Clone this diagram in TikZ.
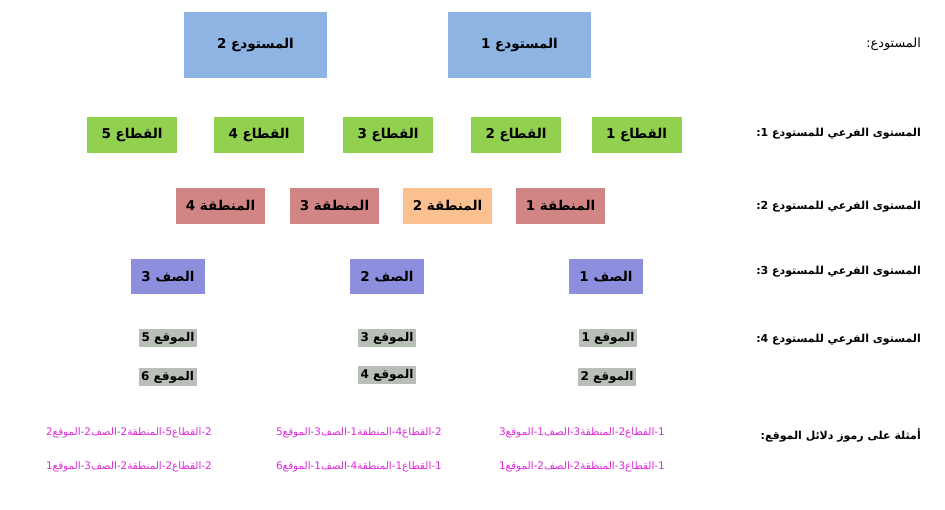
\documentclass[tikz,border=0pt]{standalone}
\usepackage{fontspec}
\TeXXeTstate=1
\newfontfamily\arfont[Script=Arabic]{DejaVu Sans}
\newcommand{\RTL}[1]{\beginR #1\endR}
\newcommand{\LOC}[1]{\raisebox{-1pt}{\beginR #1\endR}}
\definecolor{blueW}{RGB}{141,180,226}
\definecolor{greenS}{RGB}{146,208,80}
\definecolor{redR}{RGB}{209,133,132}
\definecolor{orangeR}{RGB}{250,192,144}
\definecolor{purpleP}{RGB}{142,142,222}
\definecolor{grayL}{RGB}{184,191,182}
\definecolor{pinkT}{RGB}{222,40,222}
\tikzset{
  box/.style={rectangle, inner sep=0pt, font=\arfont\bfseries\fontsize{13.5}{15}\selectfont},
  whbox/.style={box, fill=blueW, minimum width=143pt, minimum height=66pt},
  secbox/.style={box, fill=greenS, minimum width=90pt, minimum height=36pt},
  regbox/.style={box, fill=redR, minimum width=89pt, minimum height=36pt},
  rowbox/.style={box, fill=purpleP, minimum width=74pt, minimum height=35pt},
  locbox/.style={box, fill=grayL, minimum width=58pt, minimum height=18pt, font=\arfont\bfseries\fontsize{12}{12}\selectfont},
  lvl/.style={anchor=east, inner sep=0pt, font=\arfont\bfseries\fontsize{11}{13}\selectfont},
  ex/.style={anchor=east, inner sep=0pt, text=pinkT, font=\arfont\fontsize{10.4}{12}\selectfont}
}
\begin{document}
\begin{tikzpicture}[x=1pt,y=-1pt]
\useasboundingbox (0,0) rectangle (945,510);
% warehouses
\node[whbox] (w2) at (255.5,45) {\RTL{المستودع 2}};
\node[whbox] (w1) at (519.5,45) {\RTL{المستودع 1}};
% sectors
\node[secbox] (s5) at (132,135) {\RTL{القطاع 5}};
\node[secbox] (s4) at (259,135) {\RTL{القطاع 4}};
\node[secbox] (s3) at (388,135) {\RTL{القطاع 3}};
\node[secbox] (s2) at (516,135) {\RTL{القطاع 2}};
\node[secbox] (s1) at (636.5,135) {\RTL{القطاع 1}};
% regions
\node[regbox] (r4) at (220.5,206) {\RTL{المنطقة 4}};
\node[regbox] (r3) at (334.5,206) {\RTL{المنطقة 3}};
\node[regbox, fill=orangeR] (r2) at (447.5,206) {\RTL{المنطقة 2}};
\node[regbox] (r1) at (560.5,206) {\RTL{المنطقة 1}};
% rows
\node[rowbox] (p3) at (168,276.5) {\RTL{الصف 3}};
\node[rowbox] (p2) at (387,276.5) {\RTL{الصف 2}};
\node[rowbox] (p1) at (606,276.5) {\RTL{الصف 1}};
% locations
\node[locbox] (l5) at (168,338) {\LOC{الموقع 5}};
\node[locbox] (l3) at (387,338) {\LOC{الموقع 3}};
\node[locbox] (l1) at (608,338) {\LOC{الموقع 1}};
\node[locbox] (l6) at (167.5,377) {\LOC{الموقع 6}};
\node[locbox] (l4) at (387,375) {\LOC{الموقع 4}};
\node[locbox] (l2) at (607,377) {\LOC{الموقع 2}};
% level labels
\node[lvl, font=\arfont\fontsize{12.8}{14}\selectfont] (t0) at (921,44) {\RTL{المستودع:}};
\node[lvl] (t1) at (921,134) {\RTL{المستوى الفرعي للمستودع 1:}};
\node[lvl] (t2) at (921,207) {\RTL{المستوى الفرعي للمستودع 2:}};
\node[lvl] (t3) at (921,272) {\RTL{المستوى الفرعي للمستودع 3:}};
\node[lvl] (t4) at (921,340) {\RTL{المستوى الفرعي للمستودع 4:}};
\node[lvl] (t5) at (921,435) {\RTL{أمثلة على رموز دلائل الموقع:}};
% examples
\node[ex] (e1) at (665,433) {\RTL{1-القطاع2-المنطقة3-الصف1-الموقع3}};
\node[ex] (e2) at (442,433) {\RTL{2-القطاع4-المنطقة1-الصف3-الموقع5}};
\node[ex] (e3) at (212,433) {\RTL{2-القطاع5-المنطقة2-الصف2-الموقع2}};
\node[ex] (e4) at (665,467) {\RTL{1-القطاع3-المنطقة2-الصف2-الموقع1}};
\node[ex] (e5) at (442,467) {\RTL{1-القطاع1-المنطقة4-الصف1-الموقع6}};
\node[ex] (e6) at (212,467) {\RTL{2-القطاع2-المنطقة2-الصف3-الموقع1}};
\end{tikzpicture}
\end{document}
